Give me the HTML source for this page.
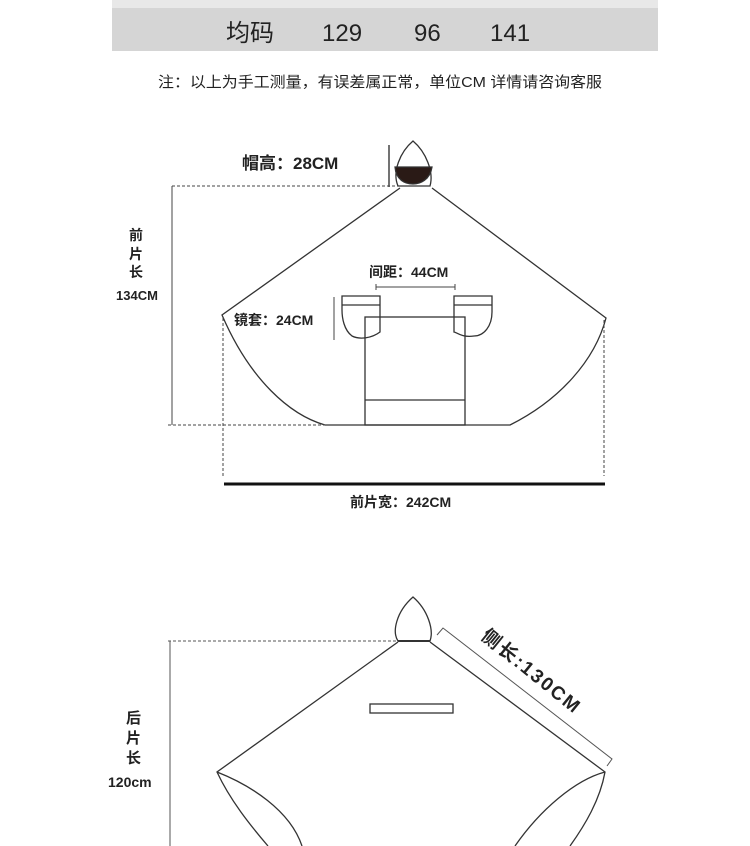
<!DOCTYPE html>
<html><head><meta charset="utf-8"><style>
html,body{margin:0;padding:0;background:#fff;width:750px;height:846px;overflow:hidden}
svg{display:block}
text{font-family:"Liberation Sans","Noto Sans CJK SC",sans-serif;fill:#222}
.b{font-weight:bold}
</style></head><body>
<svg width="750" height="846" viewBox="0 0 750 846">
<rect x="112" y="0" width="546" height="8" fill="#e8e8e8"/>
<rect x="112" y="8" width="546" height="43" fill="#d5d5d5"/>
<text x="226" y="41" font-size="24" fill="#333">均码</text>
<text x="322" y="41" font-size="24" fill="#333">129</text>
<text x="414" y="41" font-size="24" fill="#333">96</text>
<text x="490" y="41" font-size="24" fill="#333">141</text>
<text x="158" y="87" font-size="15" textLength="444" lengthAdjust="spacingAndGlyphs">注：以上为手工测量，有误差属正常，单位CM  详情请咨询客服</text>

<g fill="none" stroke="#333" stroke-width="1.3">
<path d="M398,186 C392,172 400,152 413,141 C426,152 434,172 430,186 Z"/>
<path d="M395,167 L432,167 C430,180 420,184 413,184 C405,184 396,180 395,167Z" fill="#2a1a16"/>
<path d="M400,188 L222,315 C250,380 290,415 325,425 L510,425 C560,400 595,360 606,318 L432,188"/>
<rect x="365" y="317" width="100" height="108"/>
<line x1="365" y1="400" x2="465" y2="400"/>
<path d="M342,296 L380,296 L380,332 C372,338 360,340 352,336 C344,330 342,318 342,310 Z"/>
<line x1="342" y1="305" x2="380" y2="305"/>
<path d="M454,296 L492,296 L492,312 C492,326 484,336 474,336 C462,338 456,332 454,332 Z"/>
<line x1="454" y1="305" x2="492" y2="305"/>
</g>
<g stroke="#444" stroke-width="1" fill="none">
<line x1="172" y1="186" x2="398" y2="186" stroke-dasharray="3,2"/>
<line x1="172" y1="186" x2="172" y2="425"/>
<line x1="168" y1="425" x2="325" y2="425" stroke-dasharray="3,2"/>
<line x1="223" y1="318" x2="223" y2="476" stroke-dasharray="3,2"/>
<line x1="604" y1="320" x2="604" y2="476" stroke-dasharray="3,2"/>
<line x1="389" y1="145" x2="389" y2="187" stroke-width="1.5"/>
<line x1="376" y1="287" x2="455" y2="287"/>
<line x1="376" y1="284" x2="376" y2="290"/><line x1="455" y1="284" x2="455" y2="290"/>
<line x1="334" y1="297" x2="334" y2="340"/>
</g>
<line x1="224" y1="484" x2="605" y2="484" stroke="#111" stroke-width="3"/>
<text class="b" x="242" y="169" font-size="17">帽高：28CM</text>
<text class="b" x="369" y="277" font-size="14">间距：44CM</text>
<text class="b" x="234" y="325" font-size="14">镜套：24CM</text>
<text class="b" x="350" y="507" font-size="14">前片宽：242CM</text>
<text class="b" x="129" y="240" font-size="14">前</text>
<text class="b" x="129" y="259" font-size="14">片</text>
<text class="b" x="129" y="277" font-size="14">长</text>
<text class="b" x="116" y="300" font-size="13">134CM</text>

<!-- back -->
<g fill="none" stroke="#333" stroke-width="1.3">
<path d="M398,641 C392,632 396,612 413,597 C428,610 434,630 430,641 Z"/>
<path d="M398,642 L217,772 C230,800 250,825 268,846 M217,772 C250,785 290,810 302,846"/>
<path d="M430,642 L605,772 C600,800 585,825 570,846 M605,772 C575,780 540,810 515,846"/>
<line x1="398" y1="641" x2="430" y2="641" stroke-width="2"/>
<rect x="370" y="704" width="83" height="9"/>
</g>
<g stroke="#555" stroke-width="1" fill="none">
<line x1="168" y1="641" x2="396" y2="641" stroke-dasharray="3,2"/>
<line x1="170" y1="641" x2="170" y2="846"/>
<path d="M437,635 L443,628 L612,759 L607,766"/>
</g>
<text class="b" x="126" y="723" font-size="15">后</text>
<text class="b" x="126" y="743" font-size="15">片</text>
<text class="b" x="126" y="763" font-size="15">长</text>
<text class="b" x="108" y="787" font-size="14">120cm</text>
<text class="b" x="0" y="0" font-size="19" textLength="120" transform="translate(480,638) rotate(39)">侧长:130CM</text>
</svg>
</body></html>
